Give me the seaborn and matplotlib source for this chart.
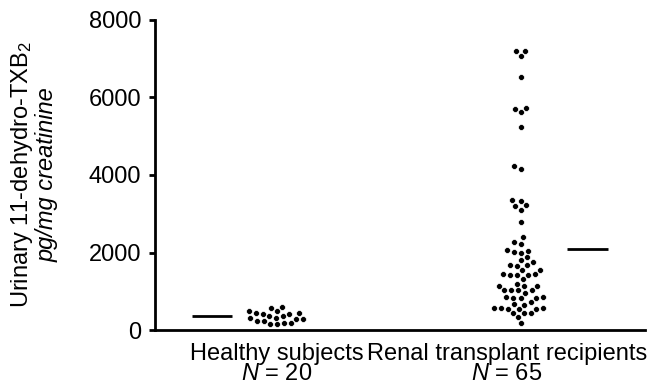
import numpy as np
import pandas as pd
import matplotlib
matplotlib.use("Agg")
import matplotlib.pyplot as plt
import matplotlib.transforms as mtransforms
import seaborn as sns

categories = ["Healthy subjects", "Renal transplant recipients"]
n_labels = ["$N$ = 20", "$N$ = 65"]
healthy = [450, 320, 190, 420, 290, 160, 500, 370, 240, 150,
           290, 580, 420, 230, 600, 450, 320, 190, 490, 360]
renal = [7070, 7200, 7200, 6520, 5700, 5620, 5740, 5230, 4160, 4220,
         3330, 3350, 3200, 3100, 3220, 2800, 2390,
         2230, 2260,
         2060, 2000, 1880, 2010, 2050,
         1750, 1560, 1680, 1670, 1660, 1810,
         1420, 1310, 1420, 1450, 1430, 1550, 1440,
         1140, 1020, 1130, 1020, 1140, 1020, 1030, 1200,
         960, 830, 830, 840, 820, 860, 720,
         580, 540, 550, 660, 550, 560, 580, 640,
         430, 430, 440, 330, 170]
yticks = [0, 2000, 4000, 6000, 8000]
ylabel_main = "Urinary 11-dehydro-TXB$_2$"
ylabel_unit = "pg/mg creatinine"

sns.set_theme(style="ticks")
plt.rcParams["font.family"] = ["Liberation Sans", "DejaVu Sans"]
plt.rcParams["mathtext.fontset"] = "custom"
plt.rcParams["mathtext.rm"] = "Liberation Sans"
plt.rcParams["mathtext.it"] = "Liberation Sans:italic"

df = pd.DataFrame({
    "group": [categories[0]] * len(healthy) + [categories[1]] * len(renal),
    "value": healthy + renal,
})

fig = plt.figure(figsize=(6.5, 3.9), dpi=100)
ax = fig.add_axes([0.2385, 0.1538, 0.7535, 0.795])

sns.swarmplot(data=df, x="group", y="value", order=categories, color="black",
              size=4.3, linewidth=0.5, edgecolor="white", ax=ax)

means = df.groupby("group")["value"].mean().reindex(categories).values
ax.hlines(means[0], -0.35, -0.185, color="black", lw=2)
ax.hlines(means[1], 1.19, 1.357, color="black", lw=2)

ax.set_xlim(-0.5, 1.508)
ax.set_ylim(0, 8000)
ax.set_yticks(yticks)
ax.set_yticklabels([str(t) for t in yticks])
ax.set_xticks([0, 1])
ax.set_xticklabels([c + "\n" + n for c, n in zip(categories, n_labels)])
ax.set_xlabel("")
ax.set_ylabel("")

for s in ["top", "right"]:
    ax.spines[s].set_visible(False)
for s in ["left", "bottom"]:
    ax.spines[s].set_linewidth(2)
    ax.spines[s].set_color("black")

ax.tick_params(axis="y", length=4, width=2, color="black", labelsize=17, pad=6, labelcolor="black")
ax.tick_params(axis="x", length=0, labelsize=17, pad=9, labelcolor="black")
for lab in ax.get_xticklabels():
    lab.set_linespacing(0.9)
lab2 = ax.get_xticklabels()[1]
lab2.set_transform(lab2.get_transform() + mtransforms.ScaledTranslation(-14 / 100, 0, fig.dpi_scale_trans))

ax.text(-0.271, 0.5, ylabel_main, transform=ax.transAxes, rotation=90,
        ha="center", va="center", fontsize=17, color="black")
ax.text(-0.220, 0.5, ylabel_unit, transform=ax.transAxes, rotation=90,
        ha="center", va="center", fontsize=17, style="italic", color="black")

fig.savefig("out.png", dpi=100)
